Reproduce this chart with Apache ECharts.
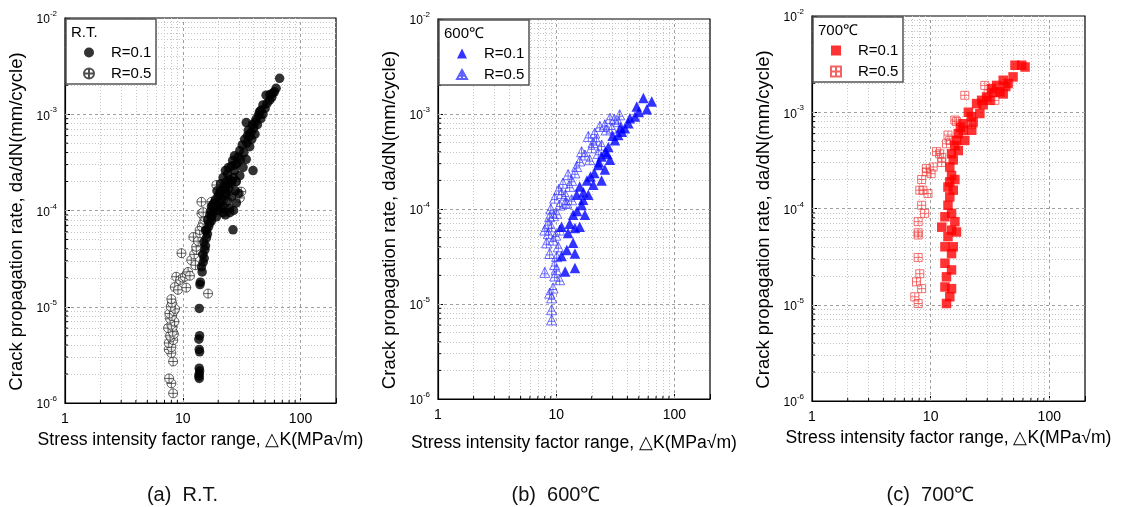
<!DOCTYPE html>
<html><head><meta charset="utf-8">
<script src="https://cdn.jsdelivr.net/npm/echarts@6/dist/echarts.min.js"></script>
<style>html,body{margin:0;padding:0;background:#fff}#c{width:1121px;height:507px}</style>
</head><body><div id="c"></div>
<script>
// ---------- data (ΔK [MPa√m], da/dN [mm/cycle]) ----------
const rtR01 = [[13.8,1.8e-6],[13.7,1.9e-6],[13.8,2.0e-6],[13.9,2.15e-6],[13.8,2.3e-6],[13.9,3.4e-6],[13.8,3.6e-6],[13.7,4.6e-6],[13.9,5.0e-6],[13.8,9.6e-6],[14.0,1.7e-5],[14.1,1.8e-5],[14.6,2.3e-5],[14.4,2.6e-5],[14.9,2.9e-5],[15.2,3.2e-5],[14.8,3.5e-5],[15.4,3.9e-5],[15.6,4.3e-5],[15.1,4.7e-5],[15.9,5.2e-5],[16.2,5.7e-5],[15.6,6.2e-5],[16.6,6.8e-5],[16.9,7.4e-5],[16.3,8.0e-5],[17.5,8.6e-5],[18.0,9.3e-5],[17.2,9.8e-5],[19.3,8.6e-5],[18.6,1.05e-4],[19.5,1.12e-4],[20.5,1.2e-4],[21.5,1.3e-4],[20.0,1.4e-4],[22.5,1.45e-4],[23.5,1.5e-4],[21.0,1.6e-4],[24.5,1.7e-4],[22.5,1.8e-4],[25.5,1.9e-4],[23.5,2.0e-4],[25.0,2.1e-4],[27.0,2.2e-4],[24.0,2.4e-4],[28.5,2.0e-4],[26.7,6.3e-5],[27.5,2.6e-4],[30.5,2.3e-4],[26.0,2.9e-4],[29.0,3.1e-4],[27.5,3.7e-4],[32.5,2.8e-4],[31.0,3.4e-4],[34.6,3.4e-4],[39.5,2.6e-4],[33.0,4.0e-4],[37.0,4.6e-4],[35.0,5.0e-4],[38.5,5.5e-4],[37.0,5.9e-4],[41.0,6.2e-4],[36.0,6.8e-4],[40.0,7.2e-4],[34.6,8.2e-4],[43.0,7.8e-4],[42.0,8.9e-4],[46.0,9.0e-4],[44.8,1.06e-3],[48.0,1.0e-3],[50.0,1.15e-3],[48.0,1.25e-3],[54.6,1.4e-3],[51.0,1.58e-3],[57.0,1.5e-3],[60.0,1.71e-3],[62.0,1.86e-3],[66.4,2.36e-3],[24.0,1.25e-4],[26.0,1.4e-4],[28.0,1.6e-4],[25.0,1.05e-4],[22.0,1.1e-4],[20.0,1.0e-4],[19.0,1.3e-4],[18.5,1.2e-4],[17.5,1.1e-4],[19.5,1.6e-4],[21.0,1.9e-4],[22.0,2.2e-4],[23.0,2.6e-4],[24.5,2.8e-4],[26.5,3.3e-4],[28.0,3.0e-4],[29.5,3.6e-4],[30.5,4.2e-4],[32.0,4.8e-4],[33.5,5.5e-4],[35.5,6.0e-4],[38.0,6.5e-4],[39.0,7.8e-4],[41.0,8.2e-4],[44.0,9.8e-4],[46.0,1.1e-3],[52.0,1.3e-3],[55.0,1.6e-3],[58.0,1.65e-3],[17.0,9.0e-5],[18.0,1.15e-4],[20.5,1.5e-4],[23.0,1.7e-4],[26.0,2.0e-4],[22.0,9.5e-5],[21.0,1.05e-4],[16.0,6.3e-5],[17.5,7.8e-5],[23.0,9.0e-5],[25.0,9.5e-5],[27.0,1.0e-4],[28.5,1.2e-4],[30.0,1.5e-4]];
const rtR05 = [[8.28,1.26e-6],[8.0,1.6e-6],[7.65,1.8e-6],[8.28,2.7e-6],[8.0,3.3e-6],[7.6,3.6e-6],[8.0,3.8e-6],[7.6,4.2e-6],[8.3,4.5e-6],[7.9,4.8e-6],[7.8,5.0e-6],[8.4,5.2e-6],[8.2,5.5e-6],[7.5,6.0e-6],[8.2,6.2e-6],[8.0,6.5e-6],[8.5,7.0e-6],[7.8,7.5e-6],[8.1,8.0e-6],[7.7,8.5e-6],[8.4,9.0e-6],[8.6,9.5e-6],[7.9,1.0e-5],[8.1,1.1e-5],[8.0,1.2e-5],[8.55,1.6e-5],[9.1,1.5e-5],[8.8,2.05e-5],[9.5,1.9e-5],[10.0,2.0e-5],[10.4,2.05e-5],[10.7,1.58e-5],[10.8,2.2e-5],[11.1,2.3e-5],[11.5,2.1e-5],[11.8,3.05e-5],[9.75,3.6e-5],[12.5,3.5e-5],[12.8,2.7e-5],[13.1,3.9e-5],[13.0,4.2e-5],[12.3,5.3e-5],[13.5,4.8e-5],[14.0,5.8e-5],[13.9,6.25e-5],[14.5,6.8e-5],[14.9,7.4e-5],[15.3,8.0e-5],[15.2,8.6e-5],[14.4,9.3e-5],[14.9,9.6e-5],[14.4,1.23e-4],[17.5,1.23e-4],[16.4,1.37e-5],[19.3,1.84e-4],[22.7,1.05e-4],[30.5,1.35e-4],[31.4,1.57e-4],[25.0,1.6e-4],[22.0,1.3e-4],[28.0,2.0e-4]];
const t600R01 = [[54.6,1.47e-3],[64.3,1.35e-3],[58.5,1.12e-3],[48,1.2e-3],[46.4,9.4e-4],[40.8,8.0e-4],[38.1,7.1e-4],[33.5,6.0e-4],[31.4,5.3e-4],[27.6,4.5e-4],[28.5,3.3e-4],[24.2,3.56e-4],[25.8,2.6e-4],[22.7,2.9e-4],[24.2,2.0e-4],[20.6,1.8e-4],[18.2,2.0e-4],[18.7,1.41e-4],[15.8,1.73e-4],[14.9,1.41e-4],[16.4,1.1e-4],[13.9,8.7e-5],[17.5,8.7e-5],[15.8,6.5e-5],[14.4,6.3e-5],[12.6,5.6e-5],[11.1,6.5e-5],[13.9,4.4e-5],[12.3,3.7e-5],[14.4,3.4e-5],[11.1,3.2e-5],[14.4,2.4e-5],[11.9,2.2e-5],[30,5.9e-4],[36,6.5e-4],[26,4.0e-4],[21,2.4e-4],[17,1.5e-4],[35,7.2e-4],[42,9.0e-4],[50,1.05e-3],[27,3.8e-4],[23,3.1e-4],[19.5,2.2e-4],[16.9,1.25e-4],[15,9.5e-5],[13,7.0e-5]];
const t600R05 = [[9.15,6.8e-6],[9.15,8.7e-6],[9.15,1.16e-5],[8.8,1.3e-5],[9.4,1.47e-5],[10.7,1.8e-5],[8.0,2.15e-5],[9.7,1.97e-5],[9.7,2.6e-5],[8.8,3.4e-5],[10.1,3.15e-5],[8.3,4.4e-5],[9.4,4.7e-5],[8.0,6.0e-5],[9.1,6.5e-5],[10.7,6.0e-5],[8.8,8.3e-5],[10.1,9.0e-5],[10.7,1.1e-4],[11.9,1.15e-4],[9.7,1.3e-4],[11.1,1.46e-4],[11.4,1.87e-4],[13.0,1.73e-4],[12.6,2.3e-4],[14.4,2.4e-4],[13.5,2.0e-4],[15.8,3.2e-4],[16.4,4.0e-4],[19.2,3.3e-4],[19.9,4.4e-4],[18.7,5.8e-4],[21.9,5.3e-4],[21.2,6.3e-4],[23.4,7.4e-4],[25.8,7.7e-4],[28.5,9.0e-4],[34.4,9.8e-4],[29.5,7.1e-4],[33.5,8.3e-4],[24.2,4.7e-4],[22.7,3.85e-4],[14.9,2.8e-4],[12.3,1.15e-4],[13.5,1.25e-4],[9.0,1.0e-4],[8.5,7.0e-5],[10.4,4.0e-5],[9.9,5.3e-5],[10.5,1.6e-4],[12.0,1.4e-4],[17.5,3.7e-4],[20.5,5.0e-4],[26.5,6.8e-4],[31.0,8.8e-4],[9.5,8.5e-5],[8.6,5.5e-5],[10.0,2.3e-5]];
const t700R01 = [[51.4,3.08e-3],[58.5,3.08e-3],[62.5,2.95e-3],[49.5,2.33e-3],[40.9,2.15e-3],[45,1.99e-3],[36,1.9e-3],[38.5,1.63e-3],[32.5,1.76e-3],[40.9,1.55e-3],[29.6,1.44e-3],[31.6,1.33e-3],[26.9,1.33e-3],[24.4,1.23e-3],[27.7,1.2e-3],[26,9.7e-4],[20.8,1.0e-3],[18.8,7.6e-4],[22.8,7.9e-4],[22.2,6.5e-4],[18.8,6.5e-4],[17.1,6.0e-4],[19.4,5.1e-4],[16.5,5.1e-4],[17.1,4.0e-4],[15,3.7e-4],[15.5,3.2e-4],[14.5,2.7e-4],[15,2.2e-4],[14.5,1.89e-4],[16,2.0e-4],[14,1.67e-4],[15.5,1.55e-4],[14.5,1.32e-4],[14,1.08e-4],[15,8.9e-5],[13.2,8.2e-5],[16,7.3e-5],[12.4,6.4e-5],[15,5.95e-5],[16.5,5.7e-5],[14,5.1e-5],[13.2,4.0e-5],[15.5,4.0e-5],[15,3.4e-5],[13.2,2.7e-5],[15,2.3e-5],[13.6,1.95e-5],[13.2,1.53e-5],[15,1.47e-5],[14.5,1.21e-5],[13.6,1.03e-5],[34,1.6e-3],[43,1.85e-3],[22,9.0e-4],[17.8,7.0e-4],[16,4.5e-4]];
const t700R05 = [[7.85,1.03e-5],[7.35,1.21e-5],[8.4,1.47e-5],[7.6,1.73e-5],[8.1,2.1e-5],[7.85,3.1e-5],[7.85,5.3e-5],[7.85,5.6e-5],[7.85,7.3e-5],[8.9,8.9e-5],[8.4,1.08e-4],[8.1,1.55e-4],[9.5,1.43e-4],[8.6,1.55e-4],[8.4,2.0e-4],[9.2,2.4e-4],[10.1,2.3e-4],[9.2,2.6e-4],[10.5,2.7e-4],[11.2,3.9e-4],[12.4,3.4e-4],[12.4,3.0e-4],[11.9,3.7e-4],[13.6,4.7e-4],[14,5.8e-4],[16,8.3e-4],[16.5,8.0e-4],[19.4,1.5e-3],[28.6,1.9e-3],[34.8,1.33e-3],[30.5,1.55e-3],[22.2,7.4e-4],[14.5,5.1e-4]];

const panelTitles = ['R.T.', '600\u2103', '700\u2103'];
const captions = ['(a)  R.T.', '(b)  600\u2103', '(c)  700\u2103'];
const seriesNames = ['R=0.1', 'R=0.5'];
const xMajor = [10, 100];
const xMinor = [2,3,4,5,6,7,8,9,20,30,40,50,60,70,80,90];
const yMajor = [1e-5, 1e-4, 1e-3];
const yMinor = [2e-6,3e-6,4e-6,5e-6,6e-6,7e-6,8e-6,9e-6,2e-5,3e-5,4e-5,5e-5,6e-5,7e-5,8e-5,9e-5,2e-4,3e-4,4e-4,5e-4,6e-4,7e-4,8e-4,9e-4,2e-3,3e-3,4e-3,5e-3,6e-3,7e-3,8e-3,9e-3];
const xTitle = 'Stress intensity factor range, \u25B3K(MPa\u221Am)';
const yTitle = 'Crack propagation rate, da/dN(mm/cycle)';

// ---------- layout / style ----------
const FONT = '"Liberation Sans", Arial, sans-serif';
const X_MIN = 1, X_MAX = 200, Y_MIN = 1e-6, Y_MAX = 1e-2;
const grids = [
  {left: 65, top: 18, width: 271, height: 385},
  {left: 438, top: 19, width: 272, height: 380},
  {left: 812, top: 16, width: 273, height: 385}
];
const xTitleY = [440, 443, 438];
const dataSets = [[rtR01, rtR05], [t600R01, t600R05], [t700R01, t700R05]];
const SYM_OCROSS = 'path://M0,-10A10,10,0,1,1,0,10A10,10,0,1,1,0,-10ZM-10,0L10,0M0,-10L0,10';
const SYM_TCROSS = 'path://M0,-10L10,8L-10,8ZM0,-10L0,8M-6.5,1.5L6.5,1.5';
const SYM_SCROSS = 'path://M-10,-10L10,-10L10,10L-10,10ZM-10,0L10,0M0,-10L0,10';
const styles = [
  [{symbol: 'circle', size: 9.5, itemStyle: {color: '#000'}},
   {symbol: SYM_OCROSS, size: 9, itemStyle: {color: '#fff', borderColor: '#222', borderWidth: 0.9}}],
  [{symbol: 'triangle', size: 10.5, itemStyle: {color: '#0000ff'}},
   {symbol: SYM_TCROSS, size: 10, itemStyle: {color: 'rgba(0,0,0,0)', borderColor: '#3636ff', borderWidth: 0.9}}],
  [{symbol: 'rect', size: 9.5, itemStyle: {color: '#ff0000'}},
   {symbol: SYM_SCROSS, size: 8, itemStyle: {color: 'rgba(0,0,0,0)', borderColor: '#f03c3c', borderWidth: 0.9}}]
];
const prefixes = ['RT', 'T600', 'T700'];

const majorLine = {type: [3, 3], color: '#a0a0a0', width: 1};
const minorLine = {type: [1, 2], color: '#c4c4c4', width: 1};
function gridLines() {
  const d = [];
  xMinor.forEach(v => d.push([{coord: [v, Y_MIN], lineStyle: minorLine}, {coord: [v, Y_MAX]}]));
  yMinor.forEach(v => d.push([{coord: [X_MIN, v], lineStyle: minorLine}, {coord: [X_MAX, v]}]));
  xMajor.forEach(v => d.push([{coord: [v, Y_MIN], lineStyle: majorLine}, {coord: [v, Y_MAX]}]));
  yMajor.forEach(v => d.push([{coord: [X_MIN, v], lineStyle: majorLine}, {coord: [X_MAX, v]}]));
  return d;
}
function isPow10(v) { const l = Math.log10(v); return Math.abs(l - Math.round(l)) < 1e-6; }

const xAxes = [], yAxes = [], series = [], legends = [], graphics = [];
grids.forEach((g, i) => {
  xAxes.push({
    type: 'log', logBase: 10, min: X_MIN, max: X_MAX, gridIndex: i,
    axisLine: {show: true, lineStyle: {color: '#000', width: 1.2}},
    axisTick: {show: true, inside: true, length: 5, lineStyle: {color: '#000'}},
    splitLine: {show: false},
    axisLabel: {margin: 9, fontSize: 14, color: '#000', fontFamily: FONT,
      formatter: v => isPow10(v) ? String(Math.round(v)) : ''}
  });
  yAxes.push({
    type: 'log', logBase: 10, min: Y_MIN, max: Y_MAX, gridIndex: i,
    axisLine: {show: true, lineStyle: {color: '#000', width: 1.2}},
    axisTick: {show: true, inside: true, length: 5, lineStyle: {color: '#000'}},
    splitLine: {show: false},
    axisLabel: {margin: 8, color: '#000',
      formatter: v => '{b|10}{s|' + Math.round(Math.log10(v)) + '}',
      rich: {
        b: {fontSize: 12, fontFamily: FONT, color: '#000', lineHeight: 16, verticalAlign: 'bottom'},
        s: {fontSize: 8, fontFamily: FONT, color: '#000', lineHeight: 16, verticalAlign: 'top'}
      }}
  });
  const names = seriesNames.map(n => prefixes[i] + '|' + n);
  [1, 0].forEach(k => {
    const st = styles[i][k];
    const s = {
      name: names[k], type: 'scatter', xAxisIndex: i, yAxisIndex: i,
      symbol: st.symbol, symbolSize: st.size, itemStyle: st.itemStyle,
      data: dataSets[i][k], z: 3 + (k === 0 ? 1 : 0), animation: false
    };
    if (k === 1) s.markLine = {z: 1, silent: true, symbol: 'none', animation: false, label: {show: false}, data: gridLines()};
    series.push(s);
  });
  legends.push({
    orient: 'vertical', left: g.left + 18, top: g.top + 27, padding: 0,
    itemWidth: 10, itemHeight: 10, itemGap: 6, selectedMode: false, z: 20,
    data: names, formatter: n => n.split('|')[1],
    textStyle: {fontSize: 15, fontFamily: FONT, color: '#000', lineHeight: 15, padding: [0, 0, 0, 12]}
  });
  graphics.push({type: 'rect', z: 10, shape: {x: g.left + 1, y: g.top + 1, width: 90, height: 65},
    style: {fill: '#fff', stroke: '#555', lineWidth: 1.5}});
  graphics.push({type: 'text', z: 11, x: g.left + 6, y: g.top + 15,
    style: {text: panelTitles[i], fontSize: 15, fontFamily: FONT, fill: '#000', textVerticalAlign: 'middle'}});
  graphics.push({type: 'text', z: 11, x: g.left + g.width / 2, y: xTitleY[i],
    style: {text: xTitle, fontSize: 17.6, fontFamily: FONT, fill: '#000', textAlign: 'center', textVerticalAlign: 'middle'}});
  graphics.push({type: 'text', z: 11, x: g.left - 48, y: g.top + g.height / 2 + 11, rotation: Math.PI / 2,
    style: {text: yTitle, fontSize: 18.5, fontFamily: FONT, fill: '#000', textAlign: 'center', textVerticalAlign: 'middle'}});
  graphics.push({type: 'text', z: 11, x: g.left + g.width / 2 - 18, y: 495,
    style: {text: captions[i], fontSize: 20, fontFamily: FONT, fill: '#111', textAlign: 'center', textVerticalAlign: 'middle'}});
});

const chart = echarts.init(document.getElementById('c'), null, {renderer: 'canvas'});
chart.setOption({
  animation: false,
  backgroundColor: '#fff',
  grid: grids.map(g => Object.assign({show: true, borderColor: '#000', borderWidth: 1.2, backgroundColor: 'transparent'}, g)),
  xAxis: xAxes, yAxis: yAxes, series: series, legend: legends,
  graphic: {elements: graphics}
});

// minor ticks (inside) placed with the library's own scales
const ticks = [];
grids.forEach((g, i) => {
  const yb = chart.convertToPixel({yAxisIndex: i}, Y_MIN);
  const xl = chart.convertToPixel({xAxisIndex: i}, X_MIN);
  xMinor.forEach(v => {
    const x = chart.convertToPixel({xAxisIndex: i}, v);
    ticks.push({type: 'line', z: 5, silent: true, shape: {x1: x, y1: yb, x2: x, y2: yb - 3}, style: {stroke: '#000', lineWidth: 1}});
  });
  yMinor.forEach(v => {
    const y = chart.convertToPixel({yAxisIndex: i}, v);
    ticks.push({type: 'line', z: 5, silent: true, shape: {x1: xl, y1: y, x2: xl + 3, y2: y}, style: {stroke: '#000', lineWidth: 1}});
  });
});
chart.setOption({graphic: {elements: graphics.concat(ticks)}});
</script></body></html>
